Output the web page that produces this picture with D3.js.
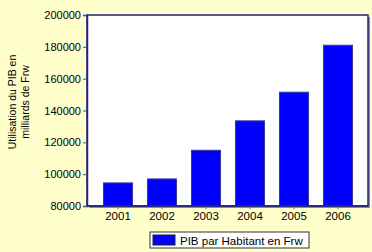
<!doctype html>
<html lang="fr">
  <head>
    <meta charset="utf-8">
    <script src="https://d3js.org/d3.v7.min.js"></script>
    <style>
      body { margin: 0; background: #ffffcc; }
      text { font-family: "Liberation Sans", Arial, sans-serif; fill: #000; }
    </style>
  </head>
  <body>
    <svg width="372" height="252"></svg>
    <script>
      // data
      const years = ["2001", "2002", "2003", "2004", "2005", "2006"];
      const pibValues = [94500, 97000, 115000, 133500, 151500, 181000];
      const yTicks = [80000, 100000, 120000, 140000, 160000, 180000, 200000];
      const seriesName = "PIB par Habitant en Frw";
      const yTitle = ["Utilisation du PIB en", "milliards de Frw"];

      const svg = d3.select("svg");
      const plot = { left: 87, top: 15, right: 368, bottom: 206 };

      const x = d3.scaleBand()
        .domain(years)
        .range([96, 360])
        .paddingInner(0.34)
        .paddingOuter(0.17);

      const y = d3.scaleLinear()
        .domain([80000, 200000])
        .range([plot.bottom, plot.top]);

      // frame shadow + plot background
      svg.append("rect")
        .attr("x", plot.left + 2).attr("y", plot.top + 2)
        .attr("width", plot.right - plot.left).attr("height", plot.bottom - plot.top)
        .attr("fill", "#8a8aa8");
      svg.append("rect")
        .attr("x", plot.left).attr("y", plot.top)
        .attr("width", plot.right - plot.left).attr("height", plot.bottom - plot.top)
        .attr("fill", "#fff")
        .attr("stroke", "#23237a")
        .attr("stroke-width", 1.5);

      // bars
      svg.append("g")
        .selectAll("rect")
        .data(years)
        .enter().append("rect")
        .attr("x", d => x(d))
        .attr("y", (d, i) => y(pibValues[i]))
        .attr("width", x.bandwidth())
        .attr("height", (d, i) => plot.bottom - y(pibValues[i]))
        .attr("fill", "#0000ff")
        .attr("stroke", "#3a3a9a")
        .attr("stroke-width", 1);

      // redraw bottom axis line on top of bars
      svg.append("line")
        .attr("x1", plot.left).attr("x2", plot.right)
        .attr("y1", plot.bottom).attr("y2", plot.bottom)
        .attr("stroke", "#23237a").attr("stroke-width", 1.5);

      // y axis
      const yAxis = svg.append("g")
        .attr("transform", `translate(${plot.left},0)`)
        .call(d3.axisLeft(y).tickValues(yTicks).tickSize(4).tickPadding(2).tickFormat(d3.format("d")));
      yAxis.select(".domain").attr("stroke", "#23237a").attr("stroke-width", 1.5);
      yAxis.selectAll(".tick line").attr("stroke", "#555");
      yAxis.selectAll("text")
        .style("font-family", "'Liberation Sans', Arial, sans-serif")
        .style("font-size", "11px")
        .attr("fill", "#000");

      // x axis
      const xAxis = svg.append("g")
        .attr("transform", `translate(0,${plot.bottom})`)
        .call(d3.axisBottom(x).tickSize(3).tickPadding(3));
      xAxis.select(".domain").remove();
      xAxis.selectAll(".tick line").attr("stroke", "#555");
      xAxis.selectAll("text")
        .style("font-family", "'Liberation Sans', Arial, sans-serif")
        .style("font-size", "11.5px")
        .attr("fill", "#000");

      // y title
      const title = svg.append("text")
        .attr("transform", "translate(12,102) rotate(-90)")
        .attr("text-anchor", "middle")
        .style("font-size", "10.5px");
      title.selectAll("tspan")
        .data(yTitle)
        .enter().append("tspan")
        .attr("x", 0)
        .attr("dy", (d, i) => i === 0 ? "0.35em" : "1.25em")
        .text(d => d);

      // legend
      const legend = svg.append("g").attr("transform", "translate(150,232)");
      legend.append("rect")
        .attr("width", 159).attr("height", 16)
        .attr("fill", "#fff")
        .attr("stroke", "#333").attr("stroke-width", 1);
      legend.append("rect")
        .attr("x", 3).attr("y", 3)
        .attr("width", 22).attr("height", 10)
        .attr("fill", "#0000ff")
        .attr("stroke", "#222").attr("stroke-width", 1);
      legend.append("text")
        .attr("x", 30).attr("y", 12.5)
        .style("font-size", "11.5px")
        .text(seriesName);
    </script>
  </body>
</html>
